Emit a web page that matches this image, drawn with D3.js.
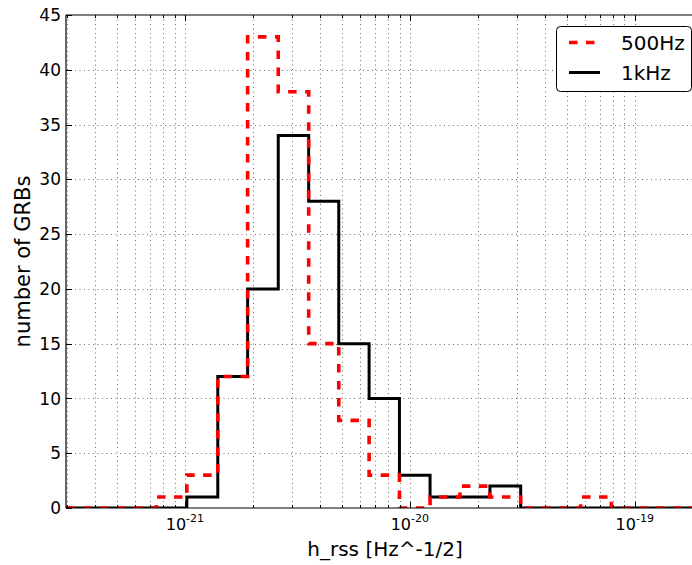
<!DOCTYPE html>
<html>
<head>
<meta charset="utf-8">
<script src="https://cdn.jsdelivr.net/npm/d3@7"></script>
<style>
  html, body { margin: 0; padding: 0; background: #fff; }
  svg { display: block; overflow: hidden; }
  text { font-family: "DejaVu Sans", sans-serif; fill: #000; }
</style>
</head>
<body>
<svg id="chart" width="692" height="565"></svg>
<script>
// Histogram bin edges (shared by both series), h_rss in Hz^-1/2
const binEdges = [7.47e-22, 1.02e-21, 1.40e-21, 1.90e-21, 2.60e-21, 3.55e-21, 4.83e-21,
                  6.59e-21, 8.99e-21, 1.23e-20, 1.67e-20, 2.27e-20, 3.11e-20, 4.24e-20,
                  5.75e-20, 7.87e-20];
// Number of GRBs per bin
const counts500Hz = [1, 3, 12, 43, 38, 15, 8, 3, 0, 1, 2, 1, 0, 0, 1];
const counts1kHz  = [0, 1, 12, 20, 34, 28, 15, 10, 3, 1, 1, 2, 0, 0, 0];
const seriesNames = ["500Hz", "1kHz"];

const xDomain = [2.96e-22, 1.95e-19];
const yDomain = [0, 45];
const yTicks = [0, 5, 10, 15, 20, 25, 30, 35, 40, 45];
const xMajorTicks = [1e-21, 1e-20, 1e-19];
const xTickExponents = ["-21", "-20", "-19"];

const svg = d3.select("#chart");
const m = { left: 66, top: 15, right: 700, bottom: 508 };

const x = d3.scaleLog().domain(xDomain).range([m.left, m.right]);
const y = d3.scaleLinear().domain(yDomain).range([m.bottom, m.top]);

svg.append("defs").append("clipPath").attr("id", "plotClip")
  .append("rect").attr("x", m.left).attr("y", m.top)
  .attr("width", m.right - m.left).attr("height", m.bottom - m.top);

// minor x ticks (2..9 x 10^k) within domain
const xMinor = [];
for (let k = -22; k <= -19; k++) {
  for (let j = 2; j <= 9; j++) {
    const v = j * Math.pow(10, k);
    if (v > xDomain[0] && v < xDomain[1]) xMinor.push(v);
  }
}

// dotted grid on major and minor x ticks, major y ticks
const grid = svg.append("g").attr("stroke", "#000").attr("stroke-width", 0.7)
  .attr("stroke-dasharray", "1,3.5").attr("opacity", 0.8);
xMajorTicks.concat(xMinor).forEach(v => {
  grid.append("line").attr("x1", Math.round(x(v)) + 0.5).attr("x2", Math.round(x(v)) + 0.5)
    .attr("y1", m.top).attr("y2", m.bottom);
});
yTicks.slice(1, -1).forEach(v => {
  grid.append("line").attr("x1", m.left).attr("x2", m.right)
    .attr("y1", Math.round(y(v)) + 0.5).attr("y2", Math.round(y(v)) + 0.5);
});

// step histograms
function stepPoints(counts) {
  const pts = [[xDomain[0], 0]];
  counts.forEach((c, i) => pts.push([binEdges[i], c]));
  pts.push([binEdges[binEdges.length - 1], 0]);
  pts.push([xDomain[1], 0]);
  return pts;
}
const line = d3.line().x(d => x(d[0])).y(d => y(d[1])).curve(d3.curveStepAfter);
const plot = svg.append("g").attr("clip-path", "url(#plotClip)");
plot.append("path").attr("d", line(stepPoints(counts1kHz)))
  .attr("fill", "none").attr("stroke", "#000").attr("stroke-width", 3)
  .attr("stroke-linejoin", "miter");
plot.append("path").attr("d", line(stepPoints(counts500Hz)))
  .attr("fill", "none").attr("stroke", "#ff0000").attr("stroke-width", 3.6)
  .attr("stroke-dasharray", "8.5,8.5");

// spines
const spines = svg.append("g").attr("stroke", "#000").attr("stroke-width", 1.2).attr("fill", "none");
spines.append("line").attr("x1", m.left).attr("x2", m.left).attr("y1", m.top).attr("y2", m.bottom);
spines.append("line").attr("x1", m.left).attr("x2", m.right).attr("y1", m.top).attr("y2", m.top);
spines.append("line").attr("x1", m.left).attr("x2", m.right).attr("y1", m.bottom).attr("y2", m.bottom);
spines.append("line").attr("x1", m.right).attr("x2", m.right).attr("y1", m.top).attr("y2", m.bottom);

// tick marks (inside, on all sides)
const ticks = svg.append("g").attr("stroke", "#000").attr("stroke-width", 1);
xMajorTicks.forEach(v => {
  const px = Math.round(x(v)) + 0.5;
  ticks.append("line").attr("x1", px).attr("x2", px).attr("y1", m.bottom).attr("y2", m.bottom - 6);
  ticks.append("line").attr("x1", px).attr("x2", px).attr("y1", m.top).attr("y2", m.top + 6);
});
xMinor.forEach(v => {
  const px = Math.round(x(v)) + 0.5;
  ticks.append("line").attr("x1", px).attr("x2", px).attr("y1", m.bottom).attr("y2", m.bottom - 3);
  ticks.append("line").attr("x1", px).attr("x2", px).attr("y1", m.top).attr("y2", m.top + 3);
});
yTicks.forEach(v => {
  const py = Math.round(y(v)) + 0.5;
  ticks.append("line").attr("x1", m.left).attr("x2", m.left + 6).attr("y1", py).attr("y2", py);
});

// y tick labels
svg.append("g").selectAll("text").data(yTicks).join("text")
  .attr("x", 61).attr("y", d => y(d)).attr("dy", "0.36em")
  .attr("text-anchor", "end").attr("font-size", 17).text(d => d);

// x tick labels: 10^k
const xl = svg.append("g").selectAll("text").data(xMajorTicks).join("text")
  .attr("x", d => x(d)).attr("y", 530).attr("text-anchor", "middle").attr("font-size", 16);
xl.append("tspan").text("10");
xl.append("tspan").attr("dy", -8).attr("font-size", 11).text((d, i) => xTickExponents[i]);

// axis labels
svg.append("text").attr("x", (m.left + 692) / 2 + 6).attr("y", 556)
  .attr("text-anchor", "middle").attr("font-size", 20).text("h_rss [Hz^-1/2]");
svg.append("text").attr("transform", `translate(30,${(m.top + m.bottom) / 2}) rotate(-90)`)
  .attr("text-anchor", "middle").attr("font-size", 21).text("number of GRBs");

// legend
const lg = svg.append("g");
lg.append("rect").attr("x", 556.5).attr("y", 26.5).attr("width", 135).attr("height", 65)
  .attr("rx", 4).attr("fill", "#fff").attr("stroke", "#000").attr("stroke-width", 1);
const legendItems = [
  { name: seriesNames[0], color: "#ff0000", dash: "8.5,8.5", y: 42.5 },
  { name: seriesNames[1], color: "#000", dash: null, y: 72.5 }
];
legendItems.forEach(it => {
  lg.append("line").attr("x1", 569).attr("x2", 600).attr("y1", it.y).attr("y2", it.y)
    .attr("stroke", it.color).attr("stroke-width", it.dash ? 3.6 : 3)
    .attr("stroke-dasharray", it.dash);
  lg.append("text").attr("x", 621).attr("y", it.y).attr("dy", "0.36em")
    .attr("font-size", 20).text(it.name);
});
</script>
</body>
</html>
